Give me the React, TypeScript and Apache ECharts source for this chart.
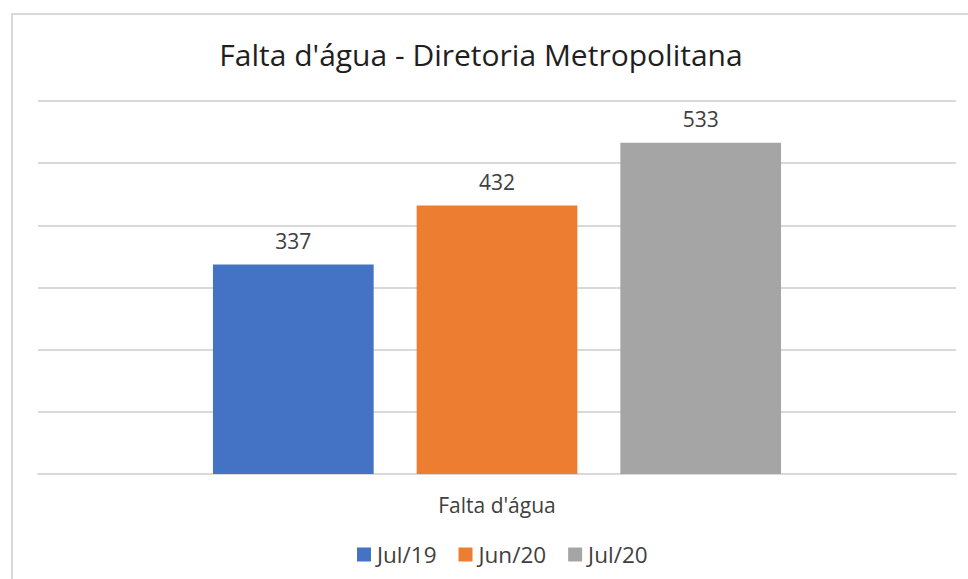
import React, { useEffect, useRef } from "react";
import * as echarts from "echarts";

const titleText = "Falta d'água - Diretoria Metropolitana";
const categories = ["Falta d'água"];
const seriesNames = ["Jul/19", "Jun/20", "Jul/20"];
const jul19 = [337];
const jun20 = [432];
const jul20 = [533];
const colors = ["#4472C4", "#ED7D31", "#A5A5A5"];

const FONT = "'Open Sans', 'Noto Sans', sans-serif";

export default function App() {
  const ref = useRef<HTMLDivElement>(null);
  useEffect(() => {
    if (!ref.current) return;
    const chart = echarts.init(ref.current, undefined, { renderer: "svg" });
    const values = [jul19, jun20, jul20];
    chart.setOption({
      animation: false,
      backgroundColor: "#ffffff",
      textStyle: { fontFamily: FONT },
      title: {
        text: titleText,
        left: 476,
        textAlign: "center",
        top: 34,
        textStyle: { fontFamily: FONT, fontSize: 30, fontWeight: "normal", color: "#1f1f1f" },
      },
      graphic: [
        {
          type: "rect",
          shape: { x: 12, y: 14, width: 980, height: 600 },
          style: { fill: "none", stroke: "#d9d9d9", lineWidth: 2 },
          silent: true,
        },
      ],
      legend: {
        bottom: 8,
        left: 352,
        itemWidth: 14,
        itemHeight: 14,
        itemGap: 22,
        icon: "rect",
        textStyle: { fontFamily: FONT, fontSize: 22.5, color: "#404040", padding: [0, 0, 0, 1] },
        data: seriesNames,
      },
      grid: { left: 38, right: 12, top: 101, bottom: 105, containLabel: false },
      xAxis: {
        type: "category",
        data: categories,
        axisLine: { lineStyle: { color: "#d9d9d9", width: 2 } },
        axisTick: { show: false },
        axisLabel: { margin: 20, fontFamily: FONT, fontSize: 21, color: "#404040" },
      },
      yAxis: {
        type: "value",
        min: 0,
        max: 600,
        interval: 100,
        axisLabel: { show: false },
        axisLine: { show: false },
        axisTick: { show: false },
        splitLine: { lineStyle: { color: "#d9d9d9", width: 2 } },
      },
      series: seriesNames.map((name, i) => ({
        name,
        type: "bar",
        data: values[i],
        barWidth: 160.7,
        barGap: "26.75%",
        itemStyle: { color: colors[i] },
        label: {
          show: true,
          position: "top",
          distance: 13,
          fontFamily: FONT,
          fontSize: 21,
          color: "#404040",
        },
      })),
    });
    return () => chart.dispose();
  }, []);
  return (
    <div
      ref={ref}
      style={{ position: "fixed", left: 0, top: 0, width: 968, height: 579 }}
    />
  );
}
